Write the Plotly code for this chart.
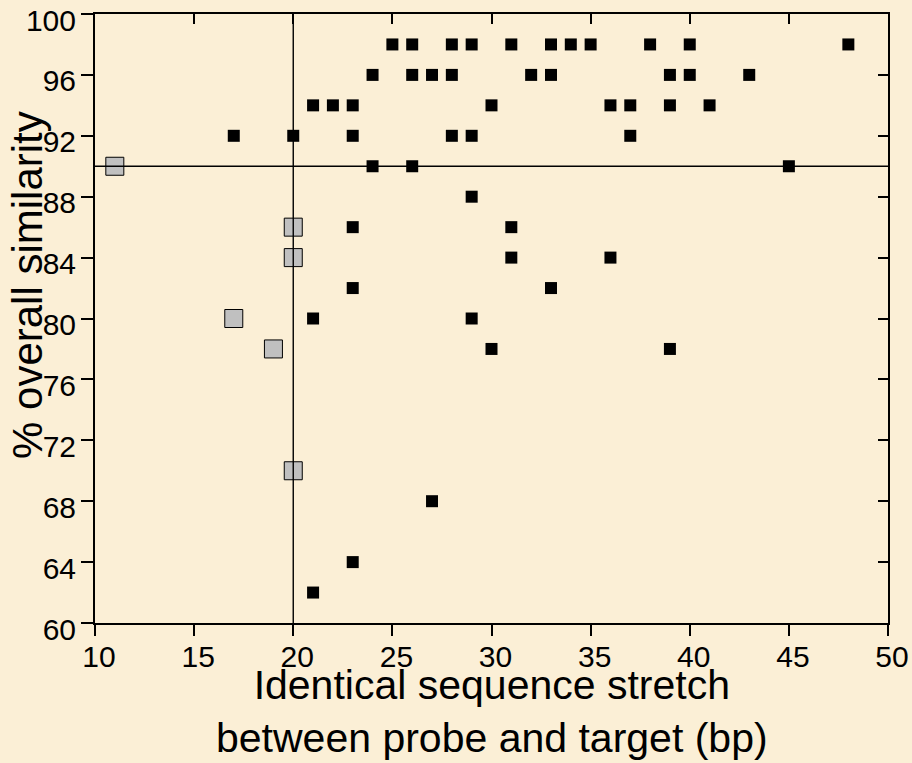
import plotly.graph_objects as go

# Data: black squares
black_x = [25, 26, 28, 29, 31, 33, 34, 35, 38, 40, 48,
           24, 26, 27, 28, 32, 33, 39, 40, 43,
           21, 22, 23, 30, 36, 37, 39, 41,
           17, 20, 23, 28, 29, 37,
           24, 26, 45,
           29,
           23, 31,
           31, 36,
           23, 33,
           21, 29,
           30, 39,
           27,
           23,
           21]
black_y = [98, 98, 98, 98, 98, 98, 98, 98, 98, 98, 98,
           96, 96, 96, 96, 96, 96, 96, 96, 96,
           94, 94, 94, 94, 94, 94, 94, 94,
           92, 92, 92, 92, 92, 92,
           90, 90, 90,
           88,
           86, 86,
           84, 84,
           82, 82,
           80, 80,
           78, 78,
           68,
           64,
           62]

# Data: gray squares
gray_x = [11, 20, 20, 17, 19, 20]
gray_y = [90, 86, 84, 80, 78, 70]

x_threshold = 20
y_threshold = 90

x_ticks = [10, 15, 20, 25, 30, 35, 40, 45, 50]
y_ticks = [60, 64, 68, 72, 76, 80, 84, 88, 92, 96, 100]

BG = "#FBEFD6"
FONT = "Liberation Sans, Arial, sans-serif"

fig = go.Figure()
fig.add_trace(go.Scatter(x=black_x, y=black_y, mode="markers",
                         marker=dict(symbol="square", size=12, color="black",
                                     line=dict(width=0)),
                         showlegend=False, hoverinfo="x+y"))
fig.add_trace(go.Scatter(x=gray_x, y=gray_y, mode="markers",
                         marker=dict(symbol="square", size=18, color="#C0C0C0",
                                     line=dict(width=1, color="black")),
                         showlegend=False, hoverinfo="x+y"))
# invisible trace to activate mirror axes
fig.add_trace(go.Scatter(x=[], y=[], xaxis="x2", yaxis="y2", showlegend=False))

fig.add_shape(type="line", xref="x", yref="paper", x0=x_threshold, x1=x_threshold,
              y0=0, y1=1, line=dict(color="black", width=1.4), layer="above")
fig.add_shape(type="line", xref="paper", yref="y", x0=0, x1=1,
              y0=y_threshold, y1=y_threshold, line=dict(color="black", width=1.4), layer="above")

axis_common = dict(showgrid=False, zeroline=False, showline=True, linecolor="black",
                   linewidth=2, tickcolor="black", tickwidth=2, automargin=False,
                   ticklabeloverflow="allow")

fig.update_layout(
    width=912, height=763,
    margin=dict(l=95, r=24, t=14, b=140),
    paper_bgcolor=BG, plot_bgcolor=BG,
    font=dict(family=FONT, color="black"),
    xaxis=dict(range=[10, 50], tickmode="array", tickvals=x_ticks,
               ticks="outside", ticklen=11, tickfont=dict(size=30, family=FONT),
               ticklabelstandoff=-5, ticklabelshift=4,
               **axis_common),
    yaxis=dict(range=[60, 100], tickmode="array", tickvals=y_ticks,
               ticks="outside", ticklen=12, tickfont=dict(size=30, family=FONT),
               ticklabelshift=6, ticklabelstandoff=-1,
               **axis_common),
    xaxis2=dict(range=[10, 50], overlaying="x", side="top", tickmode="array",
                tickvals=x_ticks, ticks="inside", ticklen=10, showticklabels=False,
                **axis_common),
    yaxis2=dict(range=[60, 100], overlaying="y", side="right", tickmode="array",
                tickvals=y_ticks, ticks="inside", ticklen=10, showticklabels=False,
                **axis_common),
    annotations=[
        dict(text="Identical sequence stretch<br>between probe and target (bp)",
             xref="paper", yref="paper", x=0.5, y=-0.1445, xanchor="center",
             yanchor="middle", showarrow=False, font=dict(size=41, family=FONT)),
        dict(text="% overall similarity", xref="paper", yref="paper",
             x=-0.0858, y=0.555, xanchor="center", yanchor="middle",
             textangle=-90, showarrow=False, font=dict(size=42, family=FONT)),
    ],
)

fig.write_html(
    "out.html",
    config={"displayModeBar": False},
    post_script="document.body.style.margin='0';document.body.style.background='" + BG + "';",
)
